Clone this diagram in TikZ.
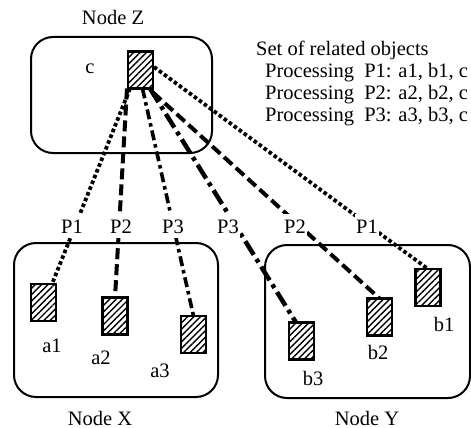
\documentclass[tikz,border=0pt]{standalone}
\usepackage{fontspec}
\setmainfont{Liberation Serif}
\usetikzlibrary{patterns.meta}
\begin{document}
\begin{tikzpicture}[x=1pt,y=-1pt,
  every node/.style={font=\fontsize{20.5}{22}\selectfont},
  grp/.style={draw, line width=2pt, rounded corners=22pt, inner sep=0pt, outer sep=0pt},
  obj/.style={draw, line width=2.4pt, fill=white, inner sep=0pt, outer sep=0pt,
    minimum width=25pt, minimum height=37pt,
    postaction={pattern={Lines[angle=45,distance=4.5pt,line width=1.4pt]}}},
  lbl/.style={anchor=base, inner sep=0pt},
  txt/.style={anchor=base west, inner sep=0pt},
  plbl/.style={anchor=base, fill=white, inner xsep=1pt, inner ysep=5pt},
  pone/.style={line width=3.8pt, dash pattern=on 3.6pt off 2.6pt},
  ptwo/.style={line width=4pt, dash pattern=on 11pt off 5pt},
  pthree/.style={line width=3.6pt, dash pattern=on 10pt off 4pt on 3.5pt off 4pt},
  pthreeb/.style={line width=4.5pt, dash pattern=on 16pt off 5pt on 4pt off 5pt}]
\useasboundingbox (0,0) rectangle (471,428);
% groups
\node[grp, minimum width=181pt, minimum height=116pt] (Z) at (121.5,95) {};
\node[grp, minimum width=204pt, minimum height=154pt] (X) at (116,320) {};
\node[grp, minimum width=205pt, minimum height=153pt] (Y) at (367.5,321.5) {};
% objects
\node[obj] (c) at (140.5,70) {};
\node[obj] (a1) at (43.5,302.5) {};
\node[obj] (a2) at (115,316) {};
\node[obj] (a3) at (193.5,334.5) {};
\node[obj] (b1) at (428,287.5) {};
\node[obj] (b2) at (379.5,317) {};
\node[obj] (b3) at (301.5,341) {};
% connectors
\draw[pone] ([xshift=2pt]c.south west) -- ([xshift=-4pt]a1.north east);
\draw[ptwo] ([xshift=-1pt]c.south west) -- (a2.north);
\draw[pthree] ([xshift=2pt]c.south) -- (a3.north);
\draw[pthreeb] ([xshift=-3pt]c.south east) -- ([xshift=7pt]b3.north west);
\draw[ptwo] ([yshift=-4pt]c.south east) -- (b2.north);
\draw[pone] ([xshift=1pt,yshift=3pt]c.east) -- (b1.north);
% redraw source object on top
\node[obj] at (c) {};
% P labels
\node[plbl] (p1x) at (72,233) {P1};
\node[plbl] (p2x) at (121,233) {P2};
\node[plbl] (p3x) at (173,233) {P3};
\node[plbl] (p3y) at (228,233) {P3};
\node[plbl] (p2y) at (295,233) {P2};
\node[plbl] (p1y) at (367,233) {P1};
% titles
\node[lbl] (tz) at (113,25) {Node Z};
\node[lbl] (tx) at (100,425) {Node X};
\node[lbl] (ty) at (367,425) {Node Y};
% object labels
\node[lbl] (lc) at (90,74) {c};
\node[lbl] (la1) at (52,352) {a1};
\node[lbl] (la2) at (101,364) {a2};
\node[lbl] (la3) at (160,377) {a3};
\node[lbl] (lb1) at (444,331) {b1};
\node[lbl] (lb2) at (378,359) {b2};
\node[lbl] (lb3) at (313,385) {b3};
% legend
\node[txt] (s0) at (256,56) {Set of related objects};
\node[txt] (s1) at (265,77.5) {Processing~~P1: a1, b1, c};
\node[txt] (s2) at (265,99.5) {Processing~~P2: a2, b2, c};
\node[txt] (s3) at (265,121.5) {Processing~~P3: a3, b3, c};
\end{tikzpicture}
\end{document}
